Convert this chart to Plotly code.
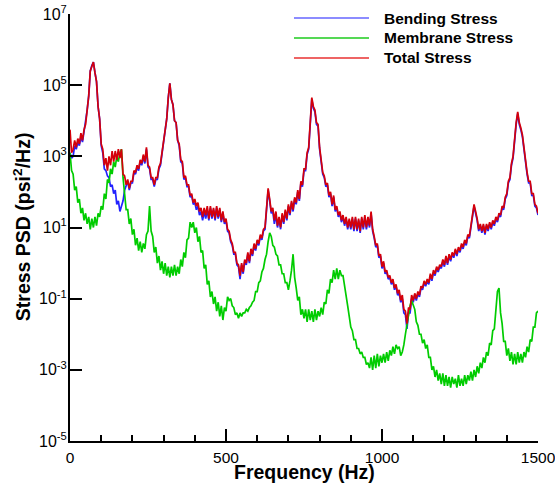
import plotly.graph_objects as go

# Frequency grid (Hz), 5 Hz spacing, 0..1500
freq_hz = list(range(0, 1505, 5))

# Values, stored as log10(PSD in psi^2/Hz)
total_log10 = [
    3.75, 3.1, 3.2, 3.45, 3.25, 3.5, 3.35, 3.65, 3.45, 3.75,
    3.9, 4.3, 4.7, 5.4, 5.55, 5.65, 5.35, 5.1, 4.4, 4.05,
    3.35, 3.2, 2.75, 2.95, 2.6, 3.0, 2.75, 3.15, 2.85, 3.15,
    2.9, 3.2, 2.95, 3.2, 2.5, 2.45, 2.2, 2.35, 2.1, 2.3,
    2.3, 2.6, 2.55, 2.75, 2.65, 2.9, 2.8, 3.05, 2.85, 3.25,
    2.75, 2.7, 2.4, 2.4, 2.2, 2.4, 2.4, 2.7, 2.8, 3.15,
    3.35, 3.8, 4.05, 4.65, 5.05, 4.6, 4.45, 4.0, 3.95, 3.45,
    3.35, 2.9, 2.85, 2.4, 2.45, 2.2, 2.2, 1.9, 1.95, 1.7,
    1.8, 1.6, 1.7, 1.45, 1.55, 1.3, 1.55, 1.35, 1.6, 1.25,
    1.6, 1.3, 1.55, 1.25, 1.6, 1.3, 1.55, 1.2, 1.45, 1.15,
    1.25, 0.95, 0.9, 0.65, 0.55, 0.3, 0.3, 0.0, -0.05, -0.35,
    0.0, -0.25, 0.1, 0.0, 0.3, 0.05, 0.4, 0.25, 0.55, 0.4,
    0.65, 0.55, 0.8, 0.7, 0.95, 1.0, 1.55, 2.1, 1.8, 1.45,
    1.55, 1.2, 1.45, 1.05, 1.3, 1.0, 1.4, 1.15, 1.5, 1.25,
    1.65, 1.4, 1.75, 1.5, 1.85, 1.7, 2.05, 1.8, 2.3, 2.2,
    2.65, 2.65, 3.1, 3.25, 3.95, 4.65, 4.4, 4.3, 3.95, 3.9,
    3.25, 2.95, 2.55, 2.45, 2.2, 2.25, 1.9, 2.0, 1.65, 1.9,
    1.5, 1.6, 1.35, 1.45, 1.2, 1.35, 1.1, 1.3, 1.0, 1.25,
    1.0, 1.3, 0.95, 1.3, 0.95, 1.25, 0.9, 1.3, 1.0, 1.35,
    1.0, 1.3, 1.05, 1.45, 0.95, 0.75, 0.5, 0.55, 0.2, 0.25,
    -0.1, 0.05, -0.25, -0.2, -0.4, -0.35, -0.55, -0.45, -0.7, -0.6,
    -0.85, -0.75, -1.05, -0.9, -1.3, -1.35, -1.7, -1.25, -1.3, -0.9,
    -1.05, -0.85, -1.0, -0.8, -0.9, -0.65, -0.7, -0.5, -0.6, -0.45,
    -0.55, -0.3, -0.45, -0.2, -0.3, -0.1, -0.2, -0.05, -0.1, 0.1,
    -0.05, 0.2, 0.0, 0.25, 0.1, 0.3, 0.2, 0.4, 0.25, 0.45,
    0.35, 0.55, 0.45, 0.65, 0.55, 0.8, 0.75, 1.05, 1.3, 1.65,
    1.45, 1.25, 0.95, 1.1, 0.9, 1.1, 0.85, 1.1, 0.95, 1.15,
    1.0, 1.2, 1.1, 1.3, 1.2, 1.4, 1.35, 1.6, 1.55, 1.85,
    1.95, 2.3, 2.4, 2.8, 3.0, 3.55, 3.95, 4.25, 3.95, 3.8,
    3.6, 3.25, 2.8, 2.55, 2.3, 2.3, 1.95, 1.95, 1.65, 1.6,
    1.4,
]

bending_log10 = [
    3.1, 2.95, 3.0, 3.3, 3.2, 3.4, 3.3, 3.55, 3.4, 3.7,
    3.9, 4.3, 4.7, 5.4, 5.55, 5.65, 5.35, 5.1, 4.4, 4.05,
    3.3, 3.1, 2.65, 2.6, 2.45, 2.4, 2.15, 2.2, 1.95, 2.05,
    1.65, 1.75, 1.45, 1.6, 1.75, 2.05, 2.15, 2.3, 2.05, 2.25,
    2.25, 2.55, 2.5, 2.7, 2.6, 2.85, 2.75, 3.0, 2.8, 3.2,
    2.7, 2.65, 2.35, 2.35, 2.15, 2.35, 2.35, 2.65, 2.75, 3.1,
    3.35, 3.8, 4.05, 4.65, 5.05, 4.6, 4.45, 4.0, 3.95, 3.45,
    3.3, 2.85, 2.8, 2.35, 2.4, 2.15, 2.15, 1.85, 1.9, 1.65,
    1.7, 1.5, 1.6, 1.35, 1.45, 1.2, 1.45, 1.25, 1.5, 1.2,
    1.55, 1.25, 1.5, 1.2, 1.55, 1.25, 1.5, 1.15, 1.4, 1.1,
    1.2, 0.9, 0.85, 0.6, 0.5, 0.25, 0.25, -0.05, -0.1, -0.45,
    -0.05, -0.3, 0.05, -0.05, 0.25, 0.0, 0.35, 0.2, 0.5, 0.35,
    0.6, 0.5, 0.75, 0.65, 0.9, 0.95, 1.5, 2.05, 1.75, 1.4,
    1.45, 1.1, 1.35, 1.0, 1.25, 0.95, 1.35, 1.1, 1.45, 1.2,
    1.6, 1.35, 1.7, 1.45, 1.8, 1.65, 2.0, 1.75, 2.25, 2.15,
    2.6, 2.6, 3.05, 3.2, 3.9, 4.6, 4.35, 4.25, 3.9, 3.85,
    3.2, 2.9, 2.5, 2.4, 2.15, 2.2, 1.85, 1.95, 1.6, 1.85,
    1.45, 1.55, 1.3, 1.4, 1.15, 1.3, 1.05, 1.25, 0.95, 1.2,
    0.95, 1.25, 0.9, 1.25, 0.9, 1.2, 0.85, 1.25, 0.95, 1.3,
    0.95, 1.25, 1.0, 1.4, 0.9, 0.7, 0.45, 0.5, 0.15, 0.2,
    -0.15, 0.0, -0.3, -0.25, -0.45, -0.4, -0.6, -0.5, -0.75, -0.65,
    -0.9, -0.85, -1.1, -1.0, -1.4, -1.45, -1.85, -1.4, -1.4, -1.0,
    -1.1, -0.9, -1.05, -0.85, -0.95, -0.7, -0.75, -0.55, -0.65, -0.5,
    -0.6, -0.35, -0.5, -0.25, -0.35, -0.15, -0.25, -0.1, -0.15, 0.05,
    -0.1, 0.15, -0.05, 0.2, 0.05, 0.25, 0.15, 0.35, 0.2, 0.4,
    0.3, 0.5, 0.4, 0.6, 0.5, 0.75, 0.7, 1.0, 1.25, 1.6,
    1.4, 1.2, 0.9, 1.05, 0.85, 1.05, 0.8, 1.05, 0.9, 1.1,
    0.95, 1.15, 1.05, 1.25, 1.15, 1.35, 1.3, 1.55, 1.5, 1.8,
    1.9, 2.25, 2.35, 2.75, 2.95, 3.5, 3.9, 4.2, 3.9, 3.75,
    3.55, 3.2, 2.75, 2.5, 2.25, 2.25, 1.9, 1.9, 1.6, 1.55,
    1.35,
]

membrane_log10 = [
    3.1, 2.6, 2.5, 2.05, 2.15, 1.7, 1.8, 1.4, 1.55, 1.2,
    1.4, 1.1, 1.3, 0.95, 1.25, 1.0, 1.3, 1.05, 1.4, 1.3,
    1.6, 1.5, 1.95, 1.8, 2.35, 2.25, 2.65, 2.5, 2.85, 2.7,
    3.0, 2.85, 3.1, 3.2, 2.4, 2.0, 1.5, 1.5, 1.1, 1.25,
    0.8, 0.95, 0.5, 0.7, 0.35, 0.6, 0.3, 0.55, 0.4, 0.8,
    0.9, 1.6, 0.9, 0.75, 0.3, 0.45, 0.0, 0.2, -0.2, 0.05,
    -0.3, 0.0, -0.35, -0.1, -0.4, -0.1, -0.35, -0.05, -0.35, -0.1,
    -0.3, 0.1, -0.1, 0.3, 0.15, 0.65, 0.7, 1.15, 1.0, 1.15,
    0.85, 1.0, 0.6, 0.75, 0.3, 0.35, -0.15, -0.05, -0.6, -0.5,
    -0.95, -0.8, -1.15, -0.95, -1.35, -1.1, -1.5, -1.2, -1.6, -1.25,
    -1.35, -0.95, -1.05, -1.0, -1.2, -1.25, -1.45, -1.4, -1.55, -1.4,
    -1.5, -1.4, -1.4, -1.3, -1.35, -1.25, -1.2, -1.1, -1.05, -0.8,
    -0.8, -0.55, -0.5, -0.25, -0.15, 0.1, 0.25, 0.6, 0.85, 0.75,
    0.5, 0.45, 0.25, 0.2, -0.05, -0.05, -0.3, -0.3, -0.55, -0.55,
    -0.75, -0.5, -0.2, 0.25, -0.4, -0.7, -1.05, -0.95, -1.45, -1.3,
    -1.55, -1.3, -1.65, -1.3, -1.6, -1.35, -1.65, -1.3, -1.6, -1.35,
    -1.5, -1.25, -1.45, -1.1, -1.15, -0.75, -0.85, -0.45, -0.55, -0.2,
    -0.45, -0.15, -0.45, -0.2, -0.35, -0.35, -0.6, -0.9, -1.2, -1.5,
    -1.8, -1.9, -2.15, -2.15, -2.4, -2.4, -2.55, -2.5, -2.65, -2.65,
    -2.85, -2.8, -2.95, -2.65, -3.0, -2.6, -2.95, -2.55, -2.9, -2.6,
    -2.8, -2.55, -2.8, -2.5, -2.75, -2.45, -2.6, -2.35, -2.55, -2.3,
    -2.4, -2.35, -2.6, -2.5, -2.3, -2.0, -1.7, -1.4, -1.2, -1.05,
    -1.2, -1.3, -1.65, -1.75, -2.0, -2.0, -2.25, -2.15, -2.4, -2.3,
    -2.65, -2.65, -3.0, -2.9, -3.2, -3.0, -3.3, -3.1, -3.4, -3.1,
    -3.45, -3.15, -3.45, -3.2, -3.5, -3.2, -3.4, -3.25, -3.5, -3.15,
    -3.45, -3.25, -3.45, -3.15, -3.4, -3.15, -3.3, -3.05, -3.3, -3.0,
    -3.2, -2.9, -3.1, -2.8, -2.95, -2.65, -2.8, -2.5, -2.6, -2.25,
    -2.3, -1.9, -1.85, -1.35, -0.8, -0.7, -1.4, -1.7, -2.2, -2.2,
    -2.6, -2.4, -2.75, -2.5, -2.85, -2.55, -2.85, -2.5, -2.8, -2.55,
    -2.8, -2.5, -2.65, -2.35, -2.5, -2.15, -2.2, -1.8, -1.8, -1.4,
    -1.35,
]

series_names = ["Bending Stress", "Membrane Stress", "Total Stress"]
series_colors = ["#2222FF", "#00CC00", "#D4000A"]
legend_colors = ["#8C8CFF", "#55D855", "#EE6464"]

y_tick_exponents = [-5, -3, -1, 1, 3, 5, 7]
x_tick_values = [0, 500, 1000, 1500]

FONT = "Liberation Sans, Arial, sans-serif"

fig = go.Figure()
for name, color, logs in zip(series_names, series_colors,
                             [bending_log10, membrane_log10, total_log10]):
    fig.add_trace(go.Scatter(
        x=freq_hz, y=[10 ** v for v in logs], mode="lines", name=name,
        line=dict(color=color, width=1.7), showlegend=False,
    ))

# Custom legend (long line samples, as in the reference)
legend_y = [0.9906, 0.9438, 0.8970]
for name, color, ly in zip(series_names, legend_colors, legend_y):
    fig.add_shape(type="line", xref="paper", yref="paper",
                  x0=0.4786, x1=0.6389, y0=ly, y1=ly,
                  line=dict(color=color, width=2))
    fig.add_annotation(xref="paper", yref="paper", x=0.6667, y=ly,
                       xanchor="left", yanchor="middle", showarrow=False,
                       text="<b>%s</b>" % name,
                       font=dict(family=FONT, size=15.5, color="black"))

# Axis titles
fig.add_annotation(xref="paper", yref="paper", x=0.5, y=-0.0726,
                   xanchor="center", yanchor="middle", showarrow=False,
                   text="<b>Frequency (Hz)</b>",
                   font=dict(family=FONT, size=19.5, color="black"))
fig.add_annotation(xref="paper", yref="paper", x=-0.1026, y=0.503,
                   xanchor="center", yanchor="middle", showarrow=False,
                   textangle=-90,
                   text="<b>Stress PSD (psi<sup>2</sup>/Hz)</b>",
                   font=dict(family=FONT, size=19.5, color="black"))

fig.update_layout(
    template="none",
    width=555, height=492,
    margin=dict(l=70, r=17, t=14, b=51, autoexpand=False),
    paper_bgcolor="white", plot_bgcolor="white",
    font=dict(family=FONT, size=16, color="black"),
    showlegend=False,
)
fig.update_xaxes(
    range=[0, 1500], showgrid=False, zeroline=False, automargin=False,
    showline=True, linecolor="black", linewidth=2, mirror=False,
    ticks="inside", ticklen=12, tickwidth=2, tickcolor="black",
    tickvals=x_tick_values, ticktext=[str(v) for v in x_tick_values],
    tickfont=dict(family=FONT, size=15.5), ticklabelstandoff=1,
    ticklabeloverflow="allow",
    minor=dict(dtick=100, tick0=0, ticks="inside", ticklen=6,
               tickwidth=1.5, tickcolor="black", showgrid=False),
)
fig.update_yaxes(
    type="log", range=[-5, 7], showgrid=False, zeroline=False,
    automargin=False,
    showline=True, linecolor="black", linewidth=2, mirror=False,
    ticks="inside", ticklen=12, tickwidth=2, tickcolor="black",
    tickvals=[10 ** e for e in y_tick_exponents],
    ticktext=["10<sup>%d</sup>" % e for e in y_tick_exponents],
    tickfont=dict(family=FONT, size=16), ticklabelstandoff=-2,
    ticklabeloverflow="allow",
)

# Remove the default 8px page margin so the figure sits at the window origin
fig.write_html("out.html",
               config={"displayModeBar": False},
               post_script="document.body.style.margin='0';")
